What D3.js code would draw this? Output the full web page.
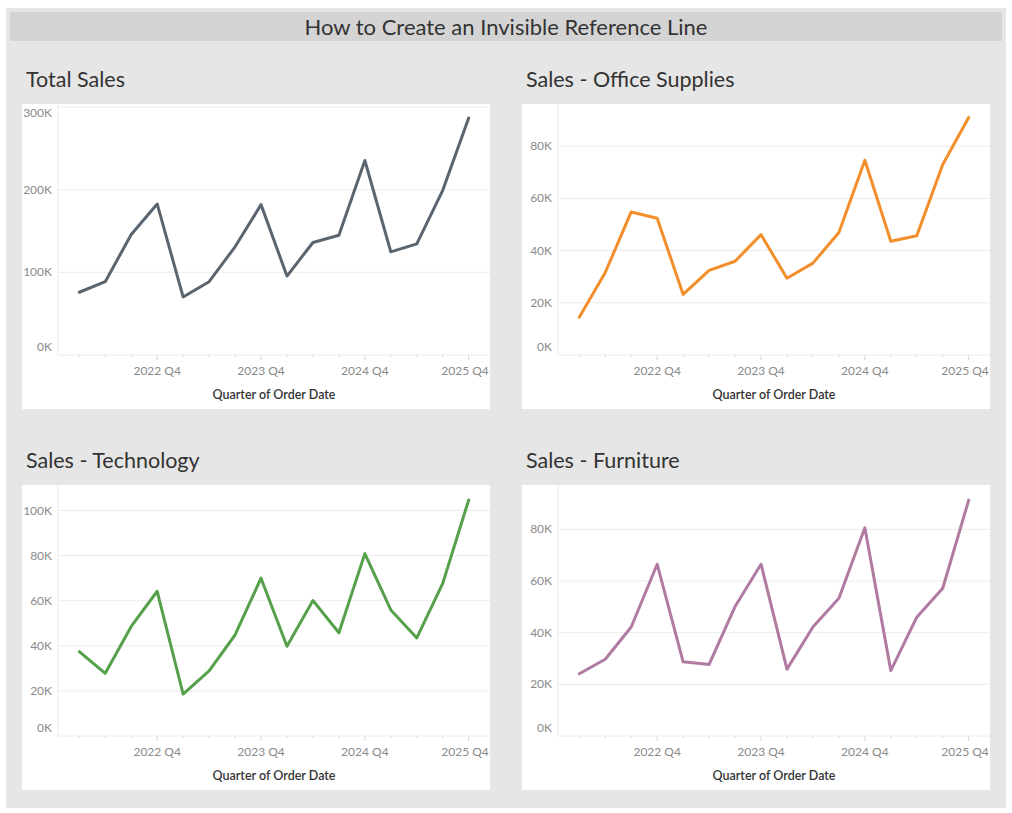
<!DOCTYPE html>
<html>
<head>
<meta charset="utf-8">
<script src="https://cdn.jsdelivr.net/npm/d3@7"></script>
<style>
  body { margin: 0; background: #fff; font-family: Lato, "Open Sans", sans-serif; }
  .grid line { stroke: #ececec; }
</style>
</head>
<body>
<svg id="chart" width="1012" height="813"></svg>
<script>
const quarters = ["2022 Q1","2022 Q2","2022 Q3","2022 Q4",
  "2023 Q1","2023 Q2","2023 Q3","2023 Q4",
  "2024 Q1","2024 Q2","2024 Q3","2024 Q4",
  "2025 Q1","2025 Q2","2025 Q3","2025 Q4"];

const tickLabels = ["2022 Q4", "2023 Q4", "2024 Q4", "2025 Q4"];

const totalSales = [75900, 88700, 145800, 182700, 70200, 88700, 130900, 181900,
  95500, 136100, 144900, 235300, 124800, 134500, 199200, 286700];
const officeSales = [14500, 31600, 54800, 52400, 23200, 32400, 35900, 46100,
  29400, 35200, 46900, 74600, 43600, 45700, 73000, 91000];
const techSales = [37400, 27800, 48600, 64200, 18600, 28900, 44800, 70000,
  39800, 60100, 45800, 80900, 55900, 43500, 67700, 104700];
const furnSales = [24100, 29700, 42200, 66500, 28700, 27700, 50100, 66500,
  25900, 42200, 53300, 80600, 25300, 46000, 57200, 91300];

const panels = [
  { title: "Total Sales", values: totalSales, color: "#5b6570", max: 300000, ticks: [0, 100000, 200000, 300000], x: 22, y: 104 },
  { title: "Sales - Office Supplies", values: officeSales, color: "#f28e2b", max: 95000, ticks: [0, 20000, 40000, 60000, 80000], x: 522, y: 104 },
  { title: "Sales - Technology", values: techSales, color: "#56a04c", max: 110000, ticks: [0, 20000, 40000, 60000, 80000, 100000], x: 22, y: 485 },
  { title: "Sales - Furniture", values: furnSales, color: "#b07aa1", max: 96000, ticks: [0, 20000, 40000, 60000, 80000], x: 522, y: 485 }
];

const svg = d3.select("#chart");

// dashboard background
svg.append("rect").attr("x", 6).attr("y", 8).attr("width", 1000).attr("height", 800).attr("fill", "#e6e6e6");
svg.append("rect").attr("x", 10).attr("y", 12).attr("width", 992).attr("height", 29).attr("fill", "#d4d4d4");
svg.append("text")
  .attr("x", 506).attr("y", 35)
  .attr("text-anchor", "middle")
  .attr("font-size", 22)
  .attr("fill", "#333")
  .text("How to Create an Invisible Reference Line");

const W = 468, H = 305;
const padLeft = 36, padTop = 3, plotBottom = 251;

panels.forEach(p => {
  svg.append("text")
    .attr("x", p.x + 4).attr("y", p.y - 17)
    .attr("font-size", 21.5)
    .attr("fill", "#333")
    .text(p.title);

  const g = svg.append("g").attr("transform", `translate(${p.x},${p.y})`);
  g.append("rect").attr("width", W).attr("height", H).attr("fill", "#fff");

  const x = d3.scalePoint().domain(quarters).range([57.3, 446.7]);
  const y = d3.scaleLinear().domain([0, p.max]).range([plotBottom, padTop]);

  // gridlines
  g.append("g").attr("class", "grid")
    .selectAll("line")
    .data(p.ticks.filter(t => t > 0))
    .join("line")
    .attr("x1", padLeft).attr("x2", W)
    .attr("y1", d => y(d)).attr("y2", d => y(d));

  // axis lines
  g.append("line").attr("x1", padLeft).attr("x2", padLeft).attr("y1", 0).attr("y2", plotBottom).attr("stroke", "#ececec");
  g.append("line").attr("x1", padLeft).attr("x2", W).attr("y1", plotBottom).attr("y2", plotBottom).attr("stroke", "#ececec");

  // y labels, end labels pushed inside like Tableau
  g.append("g").selectAll("text")
    .data(p.ticks)
    .join("text")
    .attr("x", padLeft - 6)
    .attr("y", d => {
      const yy = y(d);
      if (yy > plotBottom - 8) return plotBottom - 8 + 4;
      if (yy < padTop + 6) return padTop + 6 + 4;
      return yy + 4;
    })
    .attr("text-anchor", "end")
    .attr("font-size", 12)
    .attr("fill", "#8a8a8a")
    .text(d => d3.format("d")(d / 1000) + "K");

  // x ticks
  g.append("g").selectAll("line")
    .data(quarters)
    .join("line")
    .attr("x1", d => x(d)).attr("x2", d => x(d))
    .attr("y1", plotBottom)
    .attr("y2", d => tickLabels.includes(d) ? plotBottom + 5 : plotBottom + 2)
    .attr("stroke", "#d8d8d8");

  g.append("g").selectAll("text")
    .data(tickLabels)
    .join("text")
    .attr("x", d => Math.min(x(d), W - 2 - 23))
    .attr("y", plotBottom + 20)
    .attr("text-anchor", "middle")
    .attr("font-size", 12)
    .attr("fill", "#8a8a8a")
    .text(d => d);

  g.append("text")
    .attr("x", 252).attr("y", plotBottom + 44)
    .attr("text-anchor", "middle")
    .attr("font-size", 12.5)
    .attr("font-weight", 600)
    .attr("fill", "#333")
    .text("Quarter of Order Date");

  const line = d3.line()
    .x((d, i) => x(quarters[i]))
    .y(d => y(d));

  g.append("path")
    .datum(p.values)
    .attr("d", line)
    .attr("fill", "none")
    .attr("stroke", p.color)
    .attr("stroke-width", 3)
    .attr("stroke-linejoin", "round")
    .attr("stroke-linecap", "round");
});
</script>
</body>
</html>
